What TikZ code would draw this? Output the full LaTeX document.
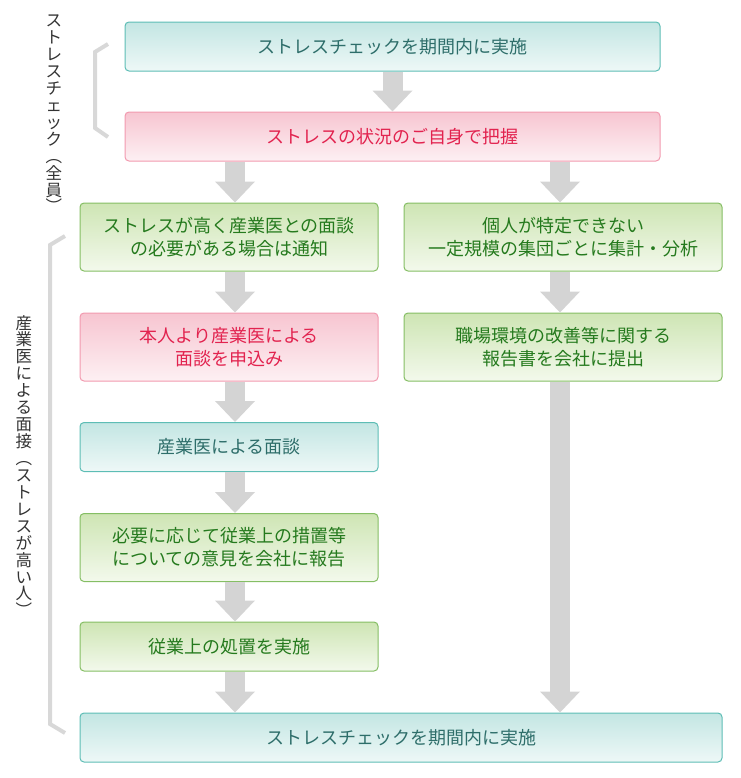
\documentclass[tikz,border=0pt]{standalone}
\usepackage{fontspec}
\newfontfamily\jp{Noto Sans CJK JP}
\usepackage{tikz}
\usetikzlibrary{arrows.meta}
\definecolor{tealline}{HTML}{5DBDB5}
\definecolor{tealtop}{HTML}{C3E6E3}
\definecolor{tealbot}{HTML}{EEF8F7}
\definecolor{tealtext}{HTML}{2E6E6A}
\definecolor{pinkline}{HTML}{F29AAF}
\definecolor{pinktop}{HTML}{F7C5D1}
\definecolor{pinkbot}{HTML}{FDF0F3}
\definecolor{pinktext}{HTML}{E2234F}
\definecolor{greenline}{HTML}{85BE64}
\definecolor{greentop}{HTML}{CEE5B4}
\definecolor{greenbot}{HTML}{F3F9EC}
\definecolor{greentext}{HTML}{257A1E}
\definecolor{arrowgray}{HTML}{D4D4D4}
\definecolor{bracegray}{HTML}{D8D8D8}
\tikzset{
    box/.style={rounded corners=3pt, line width=0.75pt, inner sep=0pt, align=center,
        font=\jp\fontsize{13.5}{17}\selectfont},
    tealbox/.style={box, draw=tealline, top color=tealtop, bottom color=tealbot, text=tealtext},
    pinkbox/.style={box, draw=pinkline, top color=pinktop, bottom color=pinkbot, text=pinktext},
    greenbox/.style={box, draw=greenline, top color=greentop, bottom color=greenbot, text=greentext},
    wfull/.style={minimum width=401.25pt},
    wleft/.style={minimum width=223.5pt},
    wright/.style={minimum width=238.5pt},
    wbase/.style={minimum width=481.5pt},
    hone/.style={minimum height=36.75pt},
    htwo/.style={minimum height=51pt},
    fat/.style={draw=arrowgray, line width=15pt,
        -{Triangle[length=15.75pt, width=30pt, line width=0pt]}},
    bracket/.style={draw=bracegray, line width=3pt},
    vlabel/.style={align=center, inner sep=0pt, text=black!80,
        font=\jp\fontsize{12.4}{12.7}\selectfont},
}
\begin{document}
\begin{tikzpicture}[x=0.75pt, y=-0.75pt]
    \useasboundingbox (0,0) rectangle (740,778);
    % columns of the arrows
    \coordinate (lx) at (235,0);
    \coordinate (rx) at (560,0);

    \node[tealbox, wfull, hone] (check) at (392.5,46.5) {ストレスチェックを期間内に実施};
    \node[pinkbox, wfull, hone] (self) at (392.5,136.5) {ストレスの状況のご自身で把握};
    \node[greenbox, wleft, htwo] (notify) at (229,237) {ストレスが高く産業医との面談\\の必要がある場合は通知};
    \node[greenbox, wright, htwo] (group) at (563,237) {個人が特定できない\\一定規模の集団ごとに集計・分析};
    \node[pinkbox, wleft, htwo] (apply) at (229,347) {本人より産業医による\\面談を申込み};
    \node[greenbox, wright, htwo] (report) at (563,347) {職場環境の改善等に関する\\報告書を会社に提出};
    \node[tealbox, wleft, hone] (meet) at (229,447) {産業医による面談};
    \node[greenbox, wleft, htwo] (advice) at (229,547.5) {必要に応じて従業上の措置等\\についての意見を会社に報告};
    \node[greenbox, wleft, hone] (act) at (229,646.5) {従業上の処置を実施};
    \node[tealbox, wbase, hone] (next) at (401,737.5) {ストレスチェックを期間内に実施};

    \draw[fat] (check) -- (self);
    \draw[fat] (self.south -| lx) -- (notify.north -| lx);
    \draw[fat] (self.south -| rx) -- (group.north -| rx);
    \draw[fat] (notify.south -| lx) -- (apply.north -| lx);
    \draw[fat] (group.south -| rx) -- (report.north -| rx);
    \draw[fat] (apply.south -| lx) -- (meet.north -| lx);
    \draw[fat] (meet.south -| lx) -- (advice.north -| lx);
    \draw[fat] (advice.south -| lx) -- (act.north -| lx);
    \draw[fat] (act.south -| lx) -- (next.north -| lx);
    \draw[fat] (report.south -| rx) -- (next.north -| rx);

    \draw[bracket] (108,44) -- (95,52) -- (95,128) -- (108,137);
    \draw[bracket] (65,236) -- (50,245) -- (50,724) -- (65,733);
    \node[vlabel] (allstaff) at (54,114) {ス\\ト\\レ\\ス\\チ\\ェ\\ッ\\ク\\︵\\全\\員\\︶};
    \node[vlabel] (highstress) at (24,466) {産\\業\\医\\に\\よ\\る\\面\\接\\︵\\ス\\ト\\レ\\ス\\が\\高\\い\\人\\︶};
\end{tikzpicture}
\end{document}
